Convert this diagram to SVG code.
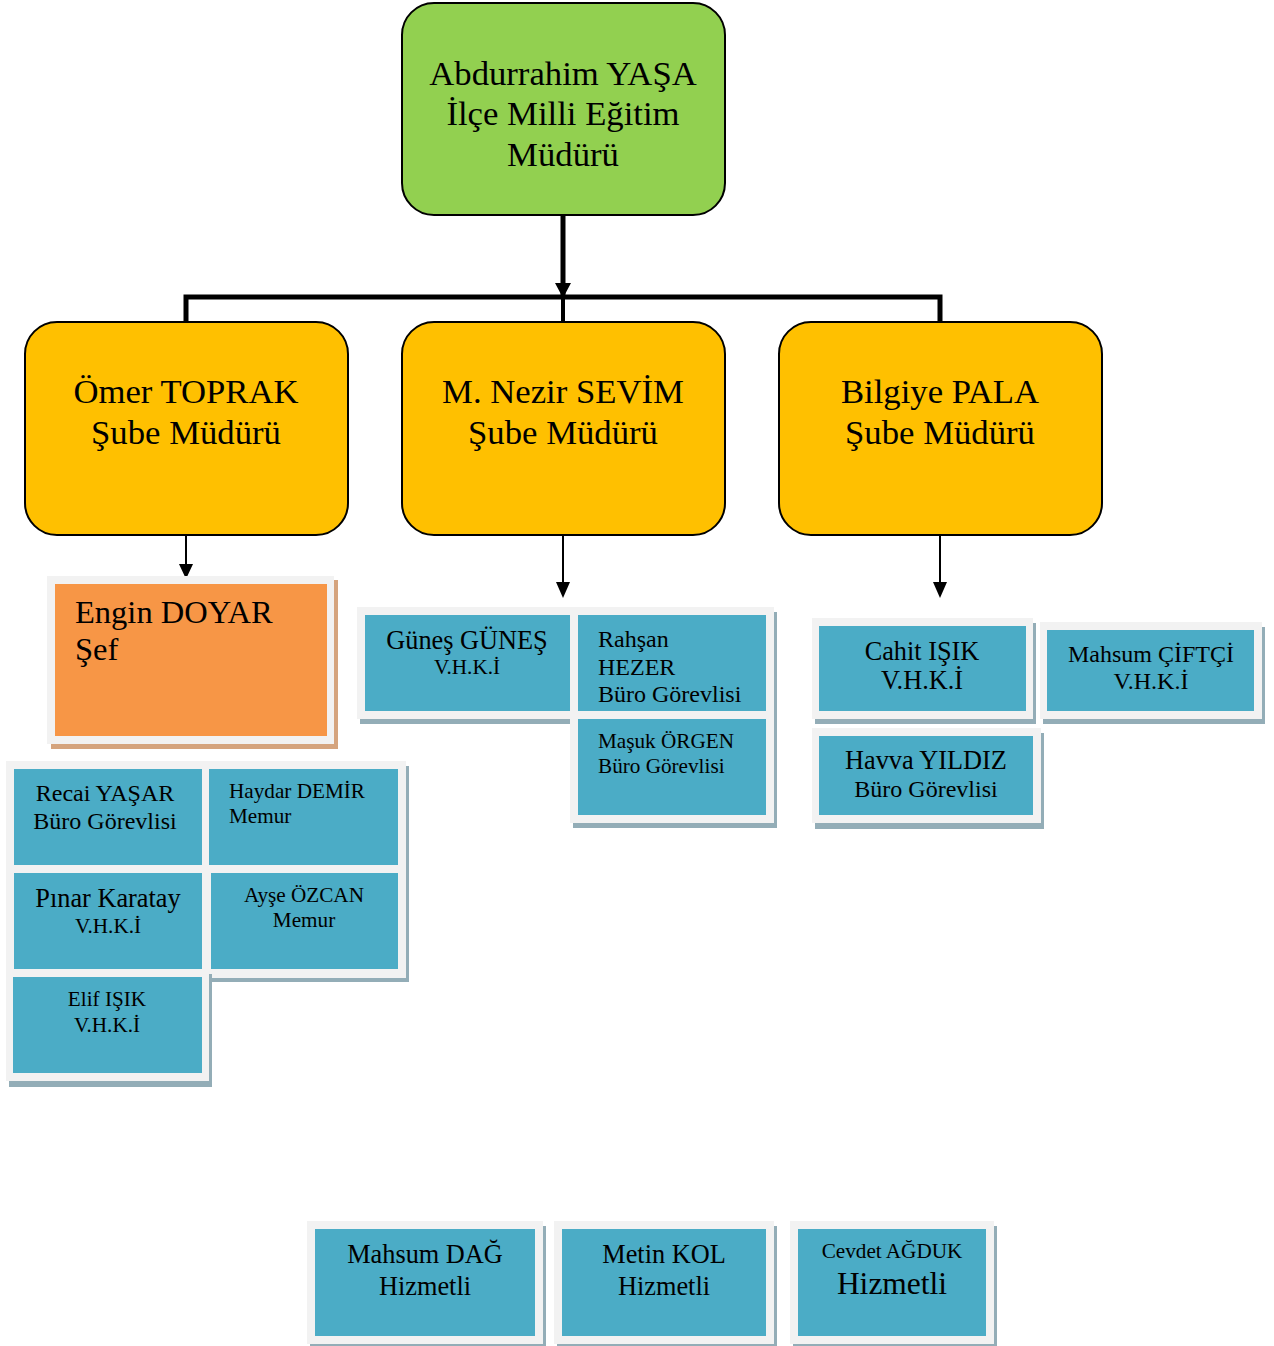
<svg xmlns="http://www.w3.org/2000/svg" width="1274" height="1346" viewBox="0 0 1274 1346">
<style>
text{font-family:"Liberation Serif","Times New Roman",serif;fill:#000}
.c{text-anchor:middle}
.top{fill:#92d050;stroke:#000;stroke-width:2}
.mgr{fill:#ffc000;stroke:#000;stroke-width:2}
.fr{fill:#f2f2f2}
.sh{fill:#93adb7}
.shO{fill:#d5a47e}
.bl{fill:#4bacc6}
.or{fill:#f79646}
.f34{font-size:34.7px}
.f31{font-size:32.5px}
.f26{font-size:26.3px}
.f24{font-size:24px}
.f21{font-size:21.2px}
.f31b{font-size:31.5px}
.cn{fill:none;stroke:#000}
</style>

<g id="connectors">
<line class="cn" x1="563" y1="215" x2="563" y2="298" stroke-width="5"/>
<path d="M555,283 L571,283 L563,298 Z" fill="#000"/>
<polyline class="cn" points="186,322 186,297 940,297 940,322" stroke-width="5"/>
<line class="cn" x1="563" y1="297" x2="563" y2="322" stroke-width="4"/>
<line class="cn" x1="186" y1="536" x2="186" y2="566" stroke-width="2"/>
<path d="M179,564 L193,564 L186,579 Z" fill="#000"/>
<line class="cn" x1="563" y1="535" x2="563" y2="584" stroke-width="2"/>
<path d="M556,582 L570,582 L563,598 Z" fill="#000"/>
<line class="cn" x1="940" y1="535" x2="940" y2="584" stroke-width="2"/>
<path d="M933,582 L947,582 L940,598 Z" fill="#000"/>
</g>

<g id="n-yasa">
<rect class="top" x="402" y="3" width="323" height="212" rx="32"/>
<text class="c f34" x="563" y="85">Abdurrahim YAŞA</text>
<text class="c f34" x="563" y="125">İlçe Milli Eğitim</text>
<text class="c f34" x="563" y="166">Müdürü</text>
</g>

<g id="n-toprak">
<rect class="mgr" x="25" y="322" width="323" height="213" rx="32"/>
<text class="c f34" x="186" y="403">Ömer TOPRAK</text>
<text class="c f34" x="186" y="444">Şube Müdürü</text>
</g>

<g id="n-sevim">
<rect class="mgr" x="402" y="322" width="323" height="213" rx="32"/>
<text class="c f34" x="563" y="403">M. Nezir SEVİM</text>
<text class="c f34" x="563" y="444">Şube Müdürü</text>
</g>

<g id="n-pala">
<rect class="mgr" x="779" y="322" width="323" height="213" rx="32"/>
<text class="c f34" x="940" y="403">Bilgiye PALA</text>
<text class="c f34" x="940" y="444">Şube Müdürü</text>
</g>

<g id="n-doyar">
<rect class="shO" x="51" y="580" width="287" height="169"/>
<rect class="fr" x="47" y="576" width="287" height="168"/>
<rect class="or" x="55" y="584" width="272" height="152"/>
<text class="f31" x="75" y="623">Engin DOYAR</text>
<text class="f31" x="75" y="660">Şef</text>
</g>

<g id="n-gunes">
<rect class="sh" x="360" y="612" width="221" height="112"/>
<rect class="fr" x="357" y="607" width="221" height="112"/>
<rect class="bl" x="365" y="615" width="205" height="96"/>
<text class="c f26" x="467" y="649">Güneş GÜNEŞ</text>
<text class="c f21" x="467" y="674">V.H.K.İ</text>
</g>

<g id="n-hezer">
<rect class="sh" x="573" y="612" width="204" height="112"/>
<rect class="fr" x="570" y="607" width="204" height="112"/>
<rect class="bl" x="578" y="615" width="188" height="96"/>
<text class="f24" x="598" y="647">Rahşan</text>
<text class="f24" x="598" y="675">HEZER</text>
<text class="f24" x="598" y="702">Büro Görevlisi</text>
</g>

<g id="n-orgen">
<rect class="sh" x="573" y="716" width="204" height="112"/>
<rect class="fr" x="570" y="711" width="204" height="112"/>
<rect class="bl" x="578" y="719" width="188" height="96"/>
<text class="f21" x="598" y="748">Maşuk ÖRGEN</text>
<text class="f21" x="598" y="773">Büro Görevlisi</text>
</g>

<g id="n-cahit">
<rect class="sh" x="815" y="623" width="221" height="101"/>
<rect class="fr" x="812" y="618" width="221" height="101"/>
<rect class="bl" x="819" y="626" width="207" height="85"/>
<text class="c f26" x="922" y="660">Cahit IŞIK</text>
<text class="c f26" x="922" y="689">V.H.K.İ</text>
</g>

<g id="n-ciftci">
<rect class="sh" x="1043" y="627" width="222" height="97"/>
<rect class="fr" x="1040" y="622" width="222" height="97"/>
<rect class="bl" x="1047" y="630" width="207" height="81"/>
<text class="c f24" x="1151" y="662">Mahsum ÇİFTÇİ</text>
<text class="c f24" x="1151" y="689">V.H.K.İ</text>
</g>

<g id="n-yildiz">
<rect class="sh" x="815" y="733" width="229" height="96"/>
<rect class="fr" x="812" y="728" width="229" height="95"/>
<rect class="bl" x="819" y="736" width="214" height="79"/>
<text class="c f26" x="926" y="769">Havva YILDIZ</text>
<text class="c f24" x="926" y="797">Büro Görevlisi</text>
</g>

<g id="n-yasar">
<rect class="sh" x="9" y="766" width="204" height="112"/>
<rect class="fr" x="6" y="761" width="204" height="112"/>
<rect class="bl" x="14" y="769" width="188" height="96"/>
<text class="c f24" x="105" y="801">Recai YAŞAR</text>
<text class="c f24" x="105" y="829">Büro Görevlisi</text>
</g>

<g id="n-demir">
<rect class="sh" x="206" y="766" width="203" height="112"/>
<rect class="fr" x="202" y="761" width="204" height="112"/>
<rect class="bl" x="209" y="769" width="189" height="96"/>
<text class="f21" x="229" y="798">Haydar DEMİR</text>
<text class="f21" x="229" y="823">Memur</text>
</g>

<g id="n-karatay">
<rect class="sh" x="9" y="870" width="204" height="112"/>
<rect class="fr" x="6" y="865" width="204" height="112"/>
<rect class="bl" x="14" y="873" width="188" height="96"/>
<text class="c f26" x="108" y="907">Pınar Karatay</text>
<text class="c f21" x="108" y="933">V.H.K.İ</text>
</g>

<g id="n-ozcan">
<rect class="sh" x="206" y="870" width="203" height="112"/>
<rect class="fr" x="202" y="865" width="204" height="113"/>
<rect class="bl" x="211" y="873" width="187" height="96"/>
<text class="c f21" x="304" y="902">Ayşe ÖZCAN</text>
<text class="c f21" x="304" y="927">Memur</text>
</g>

<g id="n-elif">
<rect class="sh" x="9" y="974" width="203" height="113"/>
<rect class="fr" x="6" y="969" width="203" height="112"/>
<rect class="bl" x="13" y="977" width="189" height="96"/>
<text class="c f21" x="107" y="1006">Elif IŞIK</text>
<text class="c f21" x="107" y="1032">V.H.K.İ</text>
</g>

<g id="n-dag">
<rect class="sh" x="310" y="1226" width="236" height="122"/>
<rect class="fr" x="307" y="1221" width="236" height="123"/>
<rect class="bl" x="315" y="1229" width="220" height="107"/>
<text class="c f26" x="425" y="1263">Mahsum DAĞ</text>
<text class="c f26" x="425" y="1295">Hizmetli</text>
</g>

<g id="n-kol">
<rect class="sh" x="557" y="1226" width="220" height="122"/>
<rect class="fr" x="554" y="1221" width="220" height="123"/>
<rect class="bl" x="562" y="1229" width="204" height="107"/>
<text class="c f26" x="664" y="1263">Metin KOL</text>
<text class="c f26" x="664" y="1295">Hizmetli</text>
</g>

<g id="n-agduk">
<rect class="sh" x="793" y="1226" width="204" height="122"/>
<rect class="fr" x="790" y="1221" width="204" height="123"/>
<rect class="bl" x="798" y="1229" width="188" height="107"/>
<text class="c f21" x="892" y="1258">Cevdet AĞDUK</text>
<text class="c f31b" x="892" y="1294">Hizmetli</text>
</g>
</svg>
